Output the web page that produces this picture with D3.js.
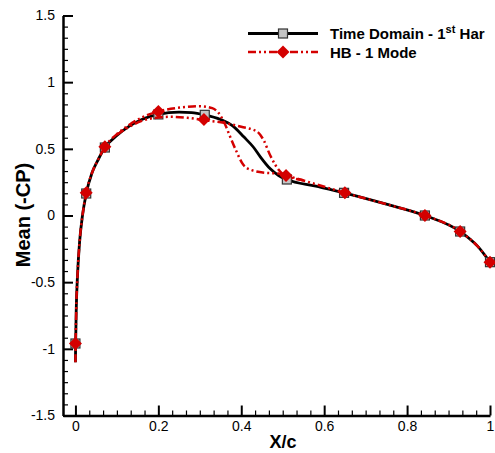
<!DOCTYPE html>
<html>
<head>
<meta charset="utf-8">
<script src="https://cdn.jsdelivr.net/npm/d3@7"></script>
<style>
  html, body { margin: 0; padding: 0; background: #fff; }
  svg { display: block; }
  text { font-family: Arial, "Liberation Sans", sans-serif; }
</style>
</head>
<body>
<svg id="chart" width="495" height="453"></svg>
<script>
// ---- data ----
const tdX = [0, 0.0005, 0.002, 0.005, 0.01, 0.017, 0.026, 0.04, 0.055, 0.071, 0.1, 0.13, 0.16, 0.2, 0.25, 0.28, 0.312, 0.35, 0.38, 0.406, 0.43, 0.446, 0.47, 0.49, 0.51, 0.58, 0.648, 0.75, 0.843, 0.928, 0.97, 1.0];
const tdY = [-1.1, -0.96, -0.7, -0.45, -0.2, 0.0, 0.165, 0.32, 0.42, 0.51, 0.6, 0.67, 0.72, 0.758, 0.775, 0.772, 0.755, 0.72, 0.67, 0.59, 0.51, 0.44, 0.35, 0.30, 0.27, 0.22, 0.17, 0.085, 0.0, -0.12, -0.23, -0.35];

const hbAX = [0, 0.0005, 0.002, 0.005, 0.01, 0.017, 0.026, 0.04, 0.055, 0.071, 0.1, 0.13, 0.16, 0.2, 0.23, 0.27, 0.30, 0.33, 0.345, 0.36, 0.372, 0.387, 0.405, 0.425, 0.46, 0.49, 0.508, 0.58, 0.65, 0.75, 0.843, 0.928, 0.97, 1.0];
const hbAY = [-1.1, -0.96, -0.7, -0.45, -0.2, 0.0, 0.17, 0.32, 0.42, 0.515, 0.61, 0.68, 0.735, 0.78, 0.8, 0.815, 0.82, 0.805, 0.77, 0.69, 0.6, 0.49, 0.38, 0.34, 0.32, 0.315, 0.30, 0.235, 0.17, 0.085, 0.0, -0.12, -0.23, -0.35];

const hbBX = [0.1, 0.13, 0.16, 0.2, 0.23, 0.27, 0.31, 0.358, 0.4, 0.438, 0.454, 0.47, 0.494, 0.508, 0.55];
const hbBY = [0.605, 0.665, 0.71, 0.735, 0.74, 0.733, 0.715, 0.695, 0.665, 0.63, 0.565, 0.45, 0.33, 0.30, 0.265];

const tdMarkX = [0, 0.026, 0.071, 0.2, 0.312, 0.51, 0.648, 0.843, 0.928, 1.0];
const tdMarkY = [-0.96, 0.165, 0.51, 0.758, 0.755, 0.27, 0.17, 0.0, -0.12, -0.35];
const hbMarkX = [0, 0.026, 0.071, 0.2, 0.31, 0.508, 0.65, 0.843, 0.928, 1.0];
const hbMarkY = [-0.96, 0.17, 0.515, 0.78, 0.72, 0.30, 0.17, 0.0, -0.12, -0.35];

const xTicks = [0, 0.2, 0.4, 0.6, 0.8, 1];
const xTickLabels = ["0", "0.2", "0.4", "0.6", "0.8", "1"];
const yTicks = [-1.5, -1, -0.5, 0, 0.5, 1, 1.5];
const yTickLabels = ["-1.5", "-1", "-0.5", "0", "0.5", "1", "1.5"];
const seriesNames = ["Time Domain - 1", "HB - 1 Mode"];

// ---- layout ----
const svg = d3.select("#chart");
const x = d3.scaleLinear().domain([-0.03, 1]).range([63, 490]);
const y = d3.scaleLinear().domain([-1.5, 1.5]).range([415.5, 15.5]);
const red = "#d40000";

// minor ticks
const xMinor = [];
for (let i = 0; i <= 30; i++) { const v = i / 30; if (i % 6 !== 0) xMinor.push(v); }
const yMinor = [];
for (let i = 0; i <= 36; i++) { const v = -1.5 + i / 12; if (i % 6 !== 0) yMinor.push(v); }

// x axis
const xAxis = d3.axisBottom(x).tickValues(xTicks).tickFormat((d, i) => xTickLabels[i]).tickSizeInner(-10).tickSizeOuter(0).tickPadding(6);
const gx = svg.append("g").attr("transform", `translate(0,${y(-1.5)})`).call(xAxis);
gx.select(".domain").attr("stroke", "#000").attr("stroke-width", 2.5);
gx.selectAll(".tick line").attr("stroke", "#000").attr("stroke-width", 2);
gx.selectAll(".tick text").attr("font-size", 14).attr("fill", "#000");
const xAxisMinor = d3.axisBottom(x).tickValues(xMinor).tickFormat("").tickSizeInner(-5).tickSizeOuter(0);
const gxm = svg.append("g").attr("transform", `translate(0,${y(-1.5)})`).call(xAxisMinor);
gxm.select(".domain").remove();
gxm.selectAll(".tick line").attr("stroke", "#000").attr("stroke-width", 1.2);

// y axis
const yAxis = d3.axisLeft(y).tickValues(yTicks).tickFormat((d, i) => yTickLabels[i]).tickSizeInner(-10).tickSizeOuter(0).tickPadding(8);
const gy = svg.append("g").attr("transform", `translate(${x(-0.03)},0)`).call(yAxis);
gy.select(".domain").attr("stroke", "#000").attr("stroke-width", 2.5);
gy.selectAll(".tick line").attr("stroke", "#000").attr("stroke-width", 2);
gy.selectAll(".tick text").attr("font-size", 14).attr("fill", "#000");
const yAxisMinor = d3.axisLeft(y).tickValues(yMinor).tickFormat("").tickSizeInner(-5).tickSizeOuter(0);
const gym = svg.append("g").attr("transform", `translate(${x(-0.03)},0)`).call(yAxisMinor);
gym.select(".domain").remove();
gym.selectAll(".tick line").attr("stroke", "#000").attr("stroke-width", 1.2);

// axis titles
svg.append("text").attr("x", 283).attr("y", 448).attr("text-anchor", "middle")
  .attr("font-size", 18).attr("font-weight", "bold").text("X/c");
svg.append("text").attr("transform", "translate(30,215) rotate(-90)").attr("text-anchor", "middle")
  .attr("font-size", 20).attr("font-weight", "bold").text("Mean (-CP)");

// lines
const line = d3.line().x(d => x(d[0])).y(d => y(d[1])).curve(d3.curveMonotoneX);
const td = tdX.map((v, i) => [v, tdY[i]]);
const hbA = hbAX.map((v, i) => [v, hbAY[i]]);
const hbB = hbBX.map((v, i) => [v, hbBY[i]]);

svg.append("path").datum(td).attr("d", line).attr("fill", "none").attr("stroke", "#000").attr("stroke-width", 2.8);
svg.selectAll(".sq").data(tdMarkX.map((v, i) => [v, tdMarkY[i]])).enter().append("rect")
  .attr("x", d => x(d[0]) - 4.5).attr("y", d => y(d[1]) - 4.5).attr("width", 9).attr("height", 9)
  .attr("fill", "#c4c4c4").attr("stroke", "#333").attr("stroke-width", 1.2);

const dash = "8,3,2,3,2,3";
[hbA, hbB].forEach(s => {
  svg.append("path").datum(s).attr("d", line).attr("fill", "none").attr("stroke", red)
    .attr("stroke-width", 2.5).attr("stroke-dasharray", dash);
});
const diamond = (cx, cy, r) => `M${cx},${cy - r}L${cx + r},${cy}L${cx},${cy + r}L${cx - r},${cy}Z`;
svg.selectAll(".dm").data(hbMarkX.map((v, i) => [v, hbMarkY[i]])).enter().append("path")
  .attr("d", d => diamond(x(d[0]), y(d[1]), 6.5)).attr("fill", red);

// legend
const lg = svg.append("g");
lg.append("line").attr("x1", 248).attr("x2", 318).attr("y1", 33.5).attr("y2", 33.5).attr("stroke", "#000").attr("stroke-width", 2.8);
lg.append("rect").attr("x", 283 - 4.5).attr("y", 33.5 - 4.5).attr("width", 9).attr("height", 9)
  .attr("fill", "#c4c4c4").attr("stroke", "#333").attr("stroke-width", 1.2);
lg.append("line").attr("x1", 248).attr("x2", 318).attr("y1", 52).attr("y2", 52).attr("stroke", red)
  .attr("stroke-width", 2.5).attr("stroke-dasharray", dash);
lg.append("path").attr("d", diamond(283, 52, 6.5)).attr("fill", red);

const t1 = lg.append("text").attr("x", 330).attr("y", 39).attr("font-size", 15).attr("font-weight", "bold");
t1.append("tspan").text(seriesNames[0]);
t1.append("tspan").attr("dy", -6).attr("font-size", 11).text("st");
t1.append("tspan").attr("dy", 6).text(" Har");
lg.append("text").attr("x", 330).attr("y", 57.5).attr("font-size", 15).attr("font-weight", "bold").text(seriesNames[1]);
</script>
</body>
</html>
